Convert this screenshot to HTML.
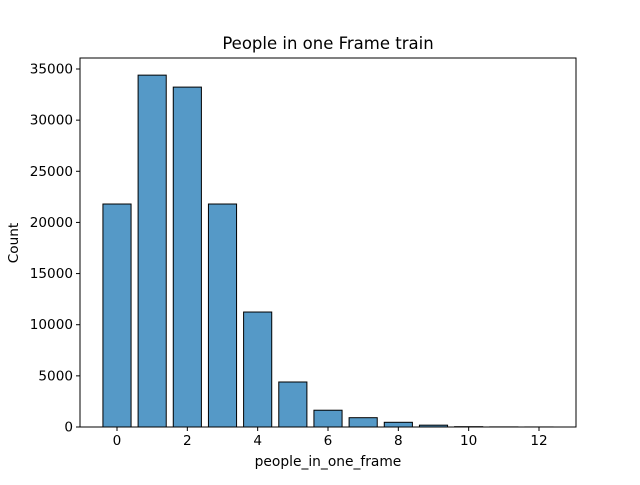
<!DOCTYPE html>
<html><head><meta charset="utf-8"><style>
body{margin:0;background:#fff;font-family:"Liberation Sans","DejaVu Sans",sans-serif;}
svg text{font-family:"DejaVu Sans","Liberation Sans",sans-serif;fill:#000;}
</style></head><body>
<svg id="chart" width="640" height="480"></svg>
<script>
const categories=[0,1,2,3,4,5,6,7,8,9,10,11,12];
const counts=[21800,34400,33230,21800,11240,4400,1640,910,460,180,30,10,5];
const xTicks=[0,2,4,6,8,10,12];
const yTicks=[0,5000,10000,15000,20000,25000,30000,35000];
const NS="http://www.w3.org/2000/svg";
const svg=document.getElementById('chart');
const L=80,R=576,T=58,B=427;
const x=v=>117+(v)*(539-117)/12;
const y=v=>B-v*(358/35000);
function mk(t,a,p){const e=document.createElementNS(NS,t);for(const k in a)e.setAttribute(k,a[k]);(p||svg).appendChild(e);return e;}
categories.forEach((c,i)=>{
 const bw=x(0.8)-x(0);
 const r=mk('rect',{x:x(c)-bw/2,y:y(counts[i]),width:bw,height:B-y(counts[i]),fill:'#5599c7',stroke:'#000','stroke-width':1});
 
 
});
const ax=mk('rect',{x:L,y:T,width:R-L,height:B-T,fill:'none',stroke:'#000','stroke-width':1});


xTicks.forEach(v=>{
 mk('line',{x1:x(v),x2:x(v),y1:B,y2:B+4,stroke:'#000'});
 const t=mk('text',{x:x(v),y:B+18,'text-anchor':'middle','font-size':13.6});
 t.textContent=v;
 
 
});
yTicks.forEach(v=>{
 mk('line',{x1:L-4,x2:L,y1:y(v),y2:y(v),stroke:'#000'});
 const t=mk('text',{x:L-7,y:y(v)+4.5,'text-anchor':'end','font-size':13.6});
 t.textContent=v;
 
 
});
let t=mk('text',{x:328,y:466,'text-anchor':'middle','font-size':13.8});t.textContent='people_in_one_frame';


t=mk('text',{x:18,y:243,'text-anchor':'middle','font-size':13.6,transform:'rotate(-90 18 243)'});t.textContent='Count';


t=mk('text',{x:328,y:49,'text-anchor':'middle','font-size':16.5});t.textContent='People in one Frame train';


</script>
</body></html>
